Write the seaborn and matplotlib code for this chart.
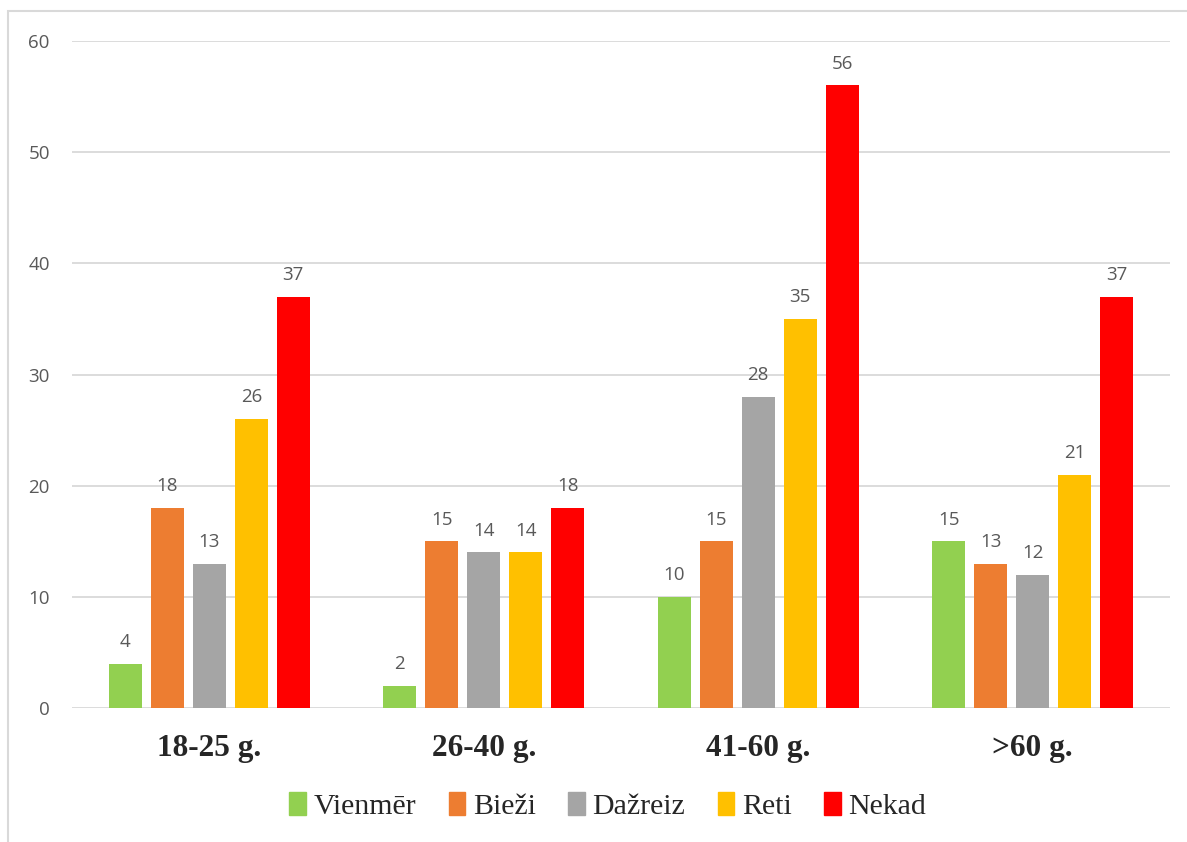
import pandas as pd
import matplotlib.pyplot as plt
import seaborn as sns
from matplotlib.patches import Rectangle

# Données
groupes = ['18-25 g.', '26-40 g.', '41-60 g.', '>60 g.']
series = ['Vienmēr', 'Bieži', 'Dažreiz', 'Reti', 'Nekad']
vienmer = [4, 2, 10, 15]
biezi = [18, 15, 15, 13]
dazreiz = [13, 14, 28, 12]
reti = [26, 14, 35, 21]
nekad = [37, 18, 56, 37]
couleurs = ['#92D050', '#ED7D31', '#A5A5A5', '#FFC000', '#FF0000']

valeurs = [vienmer, biezi, dazreiz, reti, nekad]
rows = []
for s, vals in zip(series, valeurs):
    for g, v in zip(groupes, vals):
        rows.append({'groupe': g, 'serie': s, 'valeur': v})
df = pd.DataFrame(rows)

sns.set_style('white')
fig = plt.figure(figsize=(11.87, 8.42), dpi=100)
ax = fig.add_axes([0.0607, 0.1591, 0.9250, 0.7922])

sns.barplot(data=df, x='groupe', y='valeur', hue='serie', hue_order=series,
            order=groupes, palette=couleurs, width=0.765, gap=0.21,
            saturation=1, errorbar=None, linewidth=0, ax=ax, zorder=3)

# Étiquettes de valeurs
for cont in ax.containers:
    ax.bar_label(cont, fmt='%d', padding=9, fontsize=13.5, color='#595959',
                 family='Open Sans')

ax.set_ylim(0, 60)
ax.set_xlim(-0.5, 3.5)
ax.set_yticks(range(0, 61, 10))
ax.yaxis.grid(True, color='#D9D9D9', linewidth=1.3, zorder=0)
ax.set_axisbelow(True)
for sp in ax.spines.values():
    sp.set_visible(False)
ax.tick_params(axis='y', length=0, pad=16, labelsize=13.5, labelcolor='#595959')
ax.tick_params(axis='x', length=0, pad=19)
for lab in ax.get_yticklabels():
    lab.set_family('Open Sans')
for lab in ax.get_xticklabels():
    lab.set_family('Liberation Serif')
    lab.set_fontweight('bold')
    lab.set_fontsize(22.5)
ax.set_xlabel('')
ax.set_ylabel('')

# Légende
ax.legend_.remove()
handles = [Rectangle((0, 0), 1, 1, color=c) for c in couleurs]
fig.legend(handles, series, loc='center', bbox_to_anchor=(0.512, 0.043),
           ncol=5, frameon=False, handlelength=0.55, handleheight=0.8,
           handletextpad=0.25, columnspacing=1.1,
           prop={'family': 'Liberation Serif', 'size': 21.5})

# Bordure du graphique
fig.add_artist(Rectangle((8 / 1187, -0.1), 1.2, 0.1 + 1 - 11 / 842,
                         transform=fig.transFigure, fill=False,
                         edgecolor='#D9D9D9', linewidth=1.5))

fig.savefig('out.png', dpi=100)
